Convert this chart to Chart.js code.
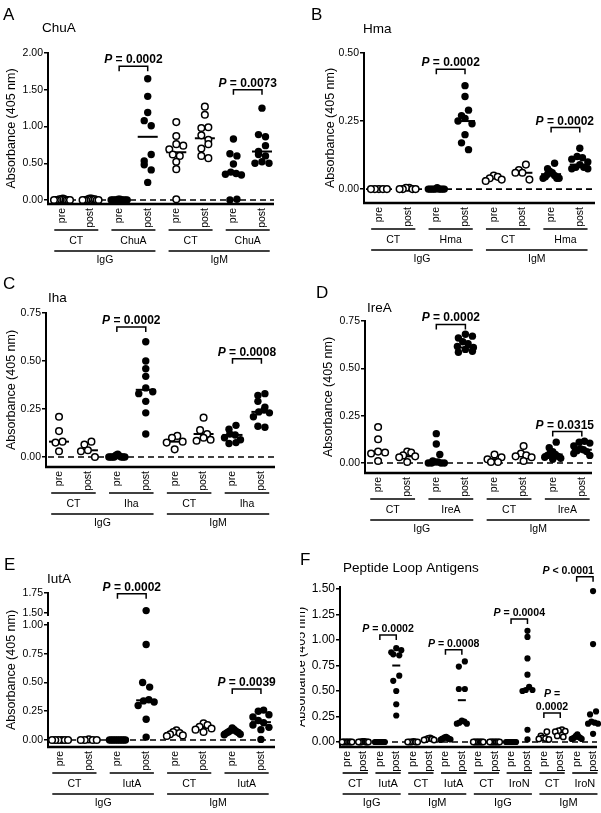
<!DOCTYPE html>
<html>
<head>
<meta charset="utf-8">
<script src="https://cdn.jsdelivr.net/npm/chart.js@4/dist/chart.umd.min.js"></script>
<style>
  html, body { margin: 0; padding: 0; background: #fff; }
  #wrap { position: relative; width: 601px; height: 813px; overflow: hidden; }
  canvas { position: absolute; }
</style>
</head>
<body>
<div id="wrap">
  <canvas id="pA"></canvas>
  <canvas id="pB"></canvas>
  <canvas id="pC"></canvas>
  <canvas id="pD"></canvas>
  <canvas id="pE"></canvas>
  <canvas id="pF"></canvas>
</div>
<script>
const FONT = "'Liberation Sans', Arial, Helvetica, sans-serif";

// shared x-axis labels
const phases = ["pre", "post"];
const isotypes = ["IgG", "IgM"];

// A - ChuA
const chuaTicks = [0, 0.5, 1.0, 1.5, 2.0];
const chuaGroups = ["CT", "ChuA", "CT", "ChuA"];
const chuaValues = [
    [0.02, 0.01, 0.01, 0.01, 0.0, 0.0, 0.0, 0.0, 0.0, 0.0],
    [0.02, 0.02, 0.01, 0.01, 0.01, 0.0, 0.0, 0.0, 0.0, 0.0],
    [0.01, 0.01, 0.0, 0.0, 0.0, 0.0, 0.0, 0.0, 0.0, 0.0],
    [1.65, 1.41, 1.19, 1.08, 1.01, 0.62, 0.53, 0.48, 0.41, 0.24],
    [1.06, 0.87, 0.76, 0.74, 0.69, 0.62, 0.60, 0.52, 0.42, 0.01],
    [1.27, 1.16, 0.99, 0.98, 0.88, 0.82, 0.76, 0.70, 0.60, 0.57],
    [0.83, 0.63, 0.60, 0.49, 0.38, 0.36, 0.35, 0.34, 0.01, 0.0],
    [1.25, 0.89, 0.86, 0.74, 0.66, 0.62, 0.60, 0.52, 0.50, 0.50],
];
const chuaCenters = [0.0, 0.0, 0.0, 0.86, 0.65, 0.84, 0.37, 0.66];
const chuaPairs = [[2, 3], [6, 7]];
const chuaP = ["= 0.0002", "= 0.0073"];
const chuaBracketY = [1.82, 1.50];

// B - Hma
const hmaTicks = [0, 0.25, 0.5];
const hmaGroups = ["CT", "Hma", "CT", "Hma"];
const hmaValues = [
    [0.0, 0.0, 0.0, 0.0, 0.0],
    [0.005, 0.005, 0.0, 0.0, 0.0, 0.0],
    [0.005, 0.0, 0.0, 0.0, 0.0, 0.0, 0.0, 0.0, 0.0, 0.0],
    [0.38, 0.34, 0.29, 0.27, 0.26, 0.25, 0.24, 0.20, 0.17, 0.145],
    [0.05, 0.045, 0.04, 0.035, 0.03],
    [0.09, 0.07, 0.06, 0.06, 0.035],
    [0.095, 0.075, 0.065, 0.06, 0.055, 0.05, 0.045, 0.04, 0.04, 0.04],
    [0.15, 0.12, 0.115, 0.11, 0.10, 0.09, 0.08, 0.08, 0.075, 0.075],
];
const hmaCenters = [0.0, 0.005, 0.003, 0.25, 0.04, 0.06, 0.055, 0.09];
const hmaPairs = [[2, 3], [6, 7]];
const hmaP = ["= 0.0002", "= 0.0002"];
const hmaBracketY = [0.44, 0.226];

// C - Iha
const ihaTicks = [0, 0.25, 0.5, 0.75];
const ihaGroups = ["CT", "Iha", "CT", "Iha"];
const ihaValues = [
    [0.21, 0.135, 0.08, 0.075, 0.03],
    [0.08, 0.065, 0.035, 0.03, 0.0],
    [0.015, 0.01, 0.005, 0.0, 0.0, 0.0, 0.0, 0.0, 0.0, 0.0],
    [0.60, 0.50, 0.46, 0.42, 0.36, 0.34, 0.33, 0.29, 0.23, 0.12],
    [0.11, 0.10, 0.08, 0.075, 0.04],
    [0.205, 0.14, 0.12, 0.10, 0.09, 0.085],
    [0.165, 0.145, 0.12, 0.115, 0.10, 0.09, 0.075, 0.07],
    [0.33, 0.32, 0.29, 0.26, 0.245, 0.235, 0.23, 0.21, 0.16, 0.155],
];
const ihaCenters = [0.08, 0.035, 0.0, 0.35, 0.08, 0.12, 0.115, 0.235];
const ihaPairs = [[2, 3], [6, 7]];
const ihaP = ["= 0.0002", "= 0.0008"];
const ihaBracketY = [0.677, 0.512];

// D - IreA
const ireaTicks = [0, 0.25, 0.5, 0.75];
const ireaGroups = ["CT", "IreA", "CT", "IreA"];
const ireaValues = [
    [0.19, 0.125, 0.06, 0.055, 0.05, 0.01],
    [0.06, 0.055, 0.04, 0.035, 0.03, 0.005],
    [0.155, 0.10, 0.045, 0.01, 0.005, 0.005, 0.0, 0.0, 0.0, 0.0],
    [0.68, 0.67, 0.66, 0.64, 0.63, 0.615, 0.61, 0.60, 0.59, 0.585],
    [0.045, 0.03, 0.02, 0.005, 0.005],
    [0.09, 0.05, 0.04, 0.035, 0.03, 0.01],
    [0.11, 0.08, 0.06, 0.05, 0.045, 0.04, 0.035, 0.03, 0.025, 0.02],
    [0.115, 0.11, 0.105, 0.09, 0.075, 0.07, 0.065, 0.06, 0.05, 0.04],
];
const ireaCenters = [0.055, 0.035, 0.005, 0.61, 0.02, 0.04, 0.045, 0.07];
const ireaPairs = [[2, 3], [6, 7]];
const ireaP = ["= 0.0002", "= 0.0315"];
const ireaBracketY = [0.732, 0.166];

// E - IutA (broken axis)
const iutaTicks = [0, 0.25, 0.5, 0.75, 1.0];
const iutaTopTicks = [1.5, 1.75];
const iutaGroups = ["CT", "IutA", "CT", "IutA"];
const iutaValues = [
    [0.0, 0.0, 0.0, 0.0, 0.0, 0.0],
    [0.005, 0.0, 0.0, 0.0, 0.0],
    [0.0, 0.0, 0.0, 0.0, 0.0, 0.0, 0.0, 0.0, 0.0, 0.0],
    [1.53, 0.83, 0.50, 0.46, 0.35, 0.34, 0.33, 0.30, 0.18, 0.025],
    [0.085, 0.07, 0.06, 0.05, 0.04, 0.035],
    [0.145, 0.13, 0.115, 0.10, 0.09, 0.07],
    [0.105, 0.09, 0.08, 0.075, 0.07, 0.065, 0.06, 0.05, 0.045],
    [0.26, 0.25, 0.22, 0.20, 0.17, 0.15, 0.13, 0.11, 0.09, 0.005],
];
const iutaCenters = [0.0, 0.0, 0.0, 0.345, 0.06, 0.105, 0.07, 0.155];
const iutaPairs = [[2, 3], [6, 7]];
const iutaP = ["= 0.0002", "= 0.0039"];
const iutaBracketY = [1.74, 0.443];

// F - Peptide loop antigens
const loopTicks = [0, 0.25, 0.5, 0.75, 1.0, 1.25, 1.5];
const loopGroups = ["CT", "IutA", "CT", "IutA", "CT", "IroN", "CT", "IroN"];
const loopValues = [
    [0.0, 0.0, 0.0, 0.0, 0.0, 0.0, 0.0, 0.0],
    [0.005, 0.005, 0.0, 0.0, 0.0, 0.0, 0.0, 0.0],
    [0.0, 0.0, 0.0, 0.0, 0.0, 0.0, 0.0, 0.0, 0.0, 0.0],
    [0.92, 0.90, 0.88, 0.86, 0.85, 0.65, 0.60, 0.50, 0.37, 0.26],
    [0.005, 0.0, 0.0, 0.0, 0.0, 0.0],
    [0.04, 0.035, 0.03, 0.025, 0.02, 0.02],
    [0.05, 0.045, 0.04, 0.035, 0.03, 0.03, 0.025, 0.02],
    [0.79, 0.74, 0.52, 0.52, 0.21, 0.20, 0.19, 0.18, 0.18],
    [0.0, 0.0, 0.0, 0.0, 0.0, 0.0, 0.0, 0.0],
    [0.0, 0.0, 0.0, 0.0, 0.0, 0.0, 0.0, 0.0],
    [0.0, 0.0, 0.0, 0.0, 0.0, 0.0, 0.0, 0.0, 0.0, 0.0],
    [1.09, 1.03, 0.82, 0.66, 0.54, 0.51, 0.51, 0.50, 0.12, 0.025],
    [0.10, 0.06, 0.04, 0.035, 0.03, 0.025],
    [0.12, 0.11, 0.105, 0.10, 0.06, 0.05],
    [0.075, 0.06, 0.05, 0.045, 0.04, 0.035, 0.03, 0.03],
    [1.48, 0.96, 0.30, 0.27, 0.20, 0.19, 0.18, 0.18, 0.08],
];
const loopCenters = [0, 0, 0, 0.75, 0, 0.02, 0.03, 0.41, 0, 0, 0, 0.52, 0.04, 0.1, 0.04, 0.19];
const loopPairs = [[2, 3], [6, 7], [10, 11], [12, 13], [14, 15]];
const loopP = ["= 0.0002", "= 0.0008", "= 0.0004", "=\n0.0002", "< 0.0001"];
const loopBracketY = [1.05, 0.905, 1.206, 0.284, 1.62];

const panels = [
    { id: "pA", box: [0, 0, 300, 270], area: [48, 53, 274, 204], yMin: -0.054, yMax: 2.0, xMin: -0.49, xMax: 7.42,
      ticks: chuaTicks, groups: chuaGroups, values: chuaValues, centers: chuaCenters, pairs: chuaPairs, pLabels: chuaP, pY: chuaBracketY,
      letter: "A", letterPos: [3, 20], title: "ChuA", titlePos: [42, 32], yTitleX: 12 },
    { id: "pB", box: [300, 0, 301, 270], area: [364, 53, 595, 203], yMin: -0.051, yMax: 0.5, xMin: -0.52, xMax: 7.53,
      ticks: hmaTicks, groups: hmaGroups, values: hmaValues, centers: hmaCenters, pairs: hmaPairs, pLabels: hmaP, pY: hmaBracketY,
      letter: "B", letterPos: [311, 20], title: "Hma", titlePos: [363, 33], yTitleX: 331 },
    { id: "pC", box: [0, 270, 300, 270], area: [46, 313, 275, 467], yMin: -0.052, yMax: 0.75, xMin: -0.45, xMax: 7.47,
      ticks: ihaTicks, groups: ihaGroups, values: ihaValues, centers: ihaCenters, pairs: ihaPairs, pLabels: ihaP, pY: ihaBracketY,
      letter: "C", letterPos: [3, 289], title: "Iha", titlePos: [48, 302], yTitleX: 12 },
    { id: "pD", box: [300, 270, 301, 270], area: [365, 321, 592, 473], yMin: -0.053, yMax: 0.75, xMin: -0.45, xMax: 7.35,
      ticks: ireaTicks, groups: ireaGroups, values: ireaValues, centers: ireaCenters, pairs: ireaPairs, pLabels: ireaP, pY: ireaBracketY,
      letter: "D", letterPos: [316, 298], title: "IreA", titlePos: [367, 312], yTitleX: 329 },
    { id: "pE", box: [0, 540, 300, 273], area: [48, 593, 275, 747], yMin: -0.061, yMax: 1.052, xMin: -0.42, xMax: 7.49,
      ticks: iutaTicks, groups: iutaGroups, values: iutaValues, centers: iutaCenters, pairs: iutaPairs, pLabels: iutaP, pY: iutaBracketY,
      split: { ticks: iutaTopTicks, min: 1.425, max: 1.75, lowWeight: 128, topWeight: 26 },
      letter: "E", letterPos: [4, 570], title: "IutA", titlePos: [47, 583], yTitleX: 12 },
    { id: "pF", box: [300, 540, 301, 273], area: [340, 587, 597, 747], yMin: -0.049, yMax: 1.52, xMin: -0.43, xMax: 15.24,
      ticks: loopTicks, groups: loopGroups, values: loopValues, centers: loopCenters, pairs: loopPairs, pLabels: loopP, pY: loopBracketY,
      letter: "F", letterPos: [300, 565], title: "Peptide Loop Antigens", titlePos: [343, 572], yTitleX: 302, small: true },
];

function yAxis(ticks, min, max, tickSize, extra) {
    return Object.assign({
        type: "linear",
        position: "left",
        min: min,
        max: max,
        afterFit: (s) => { s.width = 30; },
        afterBuildTicks: (s) => { s.ticks = ticks.map((v) => ({ value: v })); },
        ticks: {
            autoSkip: false,
            padding: 1,
            color: "#000",
            font: { family: FONT, size: tickSize },
            callback: (v) => Number(v).toFixed(2),
        },
        grid: { display: true, drawOnChartArea: false, drawTicks: true, tickLength: 4, color: "#000", lineWidth: 1.5 },
        border: { display: true, color: "#000", width: 2 },
    }, extra || {});
}

function drawPLabel(ctx, text, cx, y, size, maxRight) {
    const lines = text.split("\n");
    let base = y - 3 - (lines.length - 1) * (size + 2);
    lines.forEach((line, i) => {
        ctx.textBaseline = "alphabetic";
        ctx.textAlign = "left";
        if (i === 0) {
            ctx.font = `italic bold ${size}px ${FONT}`;
            const wP = ctx.measureText("P").width;
            ctx.font = `bold ${size}px ${FONT}`;
            const rest = " " + line;
            const wR = ctx.measureText(rest).width;
            let x0 = cx - (wP + wR) / 2;
            if (x0 + wP + wR > maxRight) x0 = maxRight - wP - wR;
            ctx.font = `italic bold ${size}px ${FONT}`;
            ctx.fillText("P", x0, base);
            ctx.font = `bold ${size}px ${FONT}`;
            ctx.fillText(rest, x0 + wP, base);
        } else {
            ctx.font = `bold ${size}px ${FONT}`;
            ctx.textAlign = "center";
            ctx.fillText(line, cx, base);
        }
        base += size + 2;
    });
}

function panelPlugin(p) {
    const ox = p.box[0], oy = p.box[1];
    return {
        id: "panel" + p.id,
        beforeDatasetsDraw(chart) {
            const { ctx, chartArea } = chart;
            const y0 = chart.scales.y.getPixelForValue(0);
            ctx.save();
            ctx.strokeStyle = "#000";
            ctx.lineWidth = 1.6;
            ctx.setLineDash([6, 4]);
            ctx.beginPath();
            ctx.moveTo(chartArea.left + 2, y0);
            ctx.lineTo(chartArea.right, y0);
            ctx.stroke();
            ctx.restore();
        },
        afterDraw(chart) {
            const { ctx, chartArea } = chart;
            const xs = chart.scales.x;
            const bottom = chartArea.bottom;
            ctx.save();
            ctx.fillStyle = "#000";
            ctx.strokeStyle = "#000";

            // x axis line
            ctx.lineWidth = 2.5;
            ctx.beginPath();
            ctx.moveTo(chartArea.left - 1, bottom);
            ctx.lineTo(chartArea.right, bottom);
            ctx.stroke();

            // axis break on panel E
            if (p.split) {
                const yHi = chart.scales.yTop.getPixelForValue(p.split.ticks[0]);
                const yLo = chart.scales.y.getPixelForValue(p.ticks[p.ticks.length - 1]);
                ctx.fillStyle = "#fff";
                ctx.fillRect(chartArea.left - 2, yHi + 3, 4, yLo - yHi - 6);
                ctx.fillStyle = "#000";
            }

            // x labels: pre / post, antigen, isotype
            const step = xs.getPixelForValue(1) - xs.getPixelForValue(0);
            const ext = step * 0.27;
            const phaseSize = p.small ? 11 : 10.5;
            const labelSize = p.small ? 11 : 10.5;
            const n = p.values.length;
            ctx.font = `${phaseSize}px ${FONT}`;
            for (let g = 0; g < n; g++) {
                const x = xs.getPixelForValue(g);
                ctx.save();
                ctx.translate(x, bottom + 4);
                ctx.rotate(-Math.PI / 2);
                ctx.textAlign = "right";
                ctx.textBaseline = "middle";
                ctx.fillText(phases[g % 2], 0, 0);
                ctx.restore();
            }
            ctx.lineWidth = 1.6;
            ctx.font = `${labelSize}px ${FONT}`;
            ctx.textAlign = "center";
            ctx.textBaseline = "middle";
            p.groups.forEach((lab, k) => {
                const x1 = xs.getPixelForValue(2 * k) - ext;
                const x2 = xs.getPixelForValue(2 * k + 1) + ext;
                ctx.beginPath();
                ctx.moveTo(x1, bottom + 26);
                ctx.lineTo(x2, bottom + 26);
                ctx.stroke();
                ctx.fillText(lab, (x1 + x2) / 2, bottom + 37);
            });
            for (let j = 0; j < n / 4; j++) {
                const x1 = xs.getPixelForValue(4 * j) - ext;
                const x2 = xs.getPixelForValue(4 * j + 3) + ext;
                ctx.beginPath();
                ctx.moveTo(x1, bottom + 47);
                ctx.lineTo(x2, bottom + 47);
                ctx.stroke();
                ctx.fillText(isotypes[j % 2], (x1 + x2) / 2, bottom + 56);
            }

            // significance brackets
            ctx.lineWidth = 1.5;
            p.pairs.forEach((pr, i) => {
                const v = p.pY[i];
                const sc = p.split && v > p.yMax ? chart.scales.yTop : chart.scales.y;
                const y = sc.getPixelForValue(v);
                const x1 = xs.getPixelForValue(pr[0]);
                const x2 = xs.getPixelForValue(pr[1]);
                ctx.beginPath();
                ctx.moveTo(x1, y + 5);
                ctx.lineTo(x1, y);
                ctx.lineTo(x2, y);
                ctx.lineTo(x2, y + 5);
                ctx.stroke();
                drawPLabel(ctx, p.pLabels[i], (x1 + x2) / 2, y, p.small ? 10.6 : 12, chart.width - 7);
            });

            // panel letter, title, y title
            ctx.textAlign = "left";
            ctx.textBaseline = "alphabetic";
            ctx.font = `17px ${FONT}`;
            ctx.fillText(p.letter, p.letterPos[0] - ox, p.letterPos[1] - oy);
            ctx.font = `13.5px ${FONT}`;
            ctx.fillText(p.title, p.titlePos[0] - ox, p.titlePos[1] - oy);
            ctx.save();
            ctx.translate(p.yTitleX - ox, (chartArea.top + chartArea.bottom) / 2);
            ctx.rotate(-Math.PI / 2);
            ctx.textAlign = "center";
            ctx.textBaseline = "middle";
            ctx.font = `12.5px ${FONT}`;
            ctx.fillText("Absorbance (405 nm)", 0, 0);
            ctx.restore();
            ctx.restore();
        },
    };
}

// spread points of a group sideways so they do not sit on top of each other:
// points close in height form a row; the highest sits in the middle, the rest alternate outwards
function swarm(chart, p) {
    const xs = chart.scales.x;
    const pxPerX = xs.width / (xs.max - xs.min);
    const diam = p.small ? 6 : 7;
    const spread = p.small ? 10 : 16;
    chart.data.datasets.forEach((ds) => {
        if (ds.group === undefined) return;
        const ys = chart.scales[ds.yAxisID];
        const pts = ds.data.map((d) => ({ d: d, py: ys.getPixelForValue(d.y) })).sort((a, b) => a.py - b.py);
        let i = 0;
        let flip = 1;
        while (i < pts.length) {
            let j = i;
            while (j + 1 < pts.length && pts[j + 1].py - pts[i].py < diam) j++;
            const cnt = j - i + 1;
            const s = cnt > 1 ? Math.min(diam, spread / (cnt - 1)) : 0;
            const slots = [];
            for (let k = 0; k < cnt; k++) slots.push((k - (cnt - 1) / 2) * s);
            slots.sort((a, b) => Math.abs(a) - Math.abs(b) || flip * (b - a));
            for (let k = 0; k < cnt; k++) {
                pts[i + k].d.x = ds.group + slots[k] / pxPerX;
            }
            flip = -flip;
            i = j + 1;
        }
    });
    chart.update("none");
}

function buildPanel(p) {
    const cv = document.getElementById(p.id);
    cv.width = p.box[2];
    cv.height = p.box[3];
    cv.style.left = p.box[0] + "px";
    cv.style.top = p.box[1] + "px";

    const r = p.small ? 3.1 : 3.7;
    const datasets = [];
    p.values.forEach((vals, g) => {
        const open = p.groups[Math.floor(g / 2)] === "CT";
        const style = {
            type: "scatter",
            pointRadius: open ? r - 0.4 : r,
            pointHoverRadius: open ? r - 0.4 : r,
            pointBackgroundColor: open ? "#fff" : "#000",
            pointBorderColor: "#000",
            pointBorderWidth: open ? 1.5 : 0,
            clip: false,
            group: g,
        };
        const low = p.split ? vals.filter((v) => v <= p.yMax) : vals;
        datasets.push(Object.assign({ data: low.map((v) => ({ x: g, y: v })), yAxisID: "y" }, style));
        if (p.split) {
            const high = vals.filter((v) => v > p.yMax);
            if (high.length) {
                datasets.push(Object.assign({ data: high.map((v) => ({ x: g, y: v })), yAxisID: "yTop" }, style));
            }
        }
    });
    datasets.push({
        type: "scatter",
        data: p.centers.map((c, g) => ({ x: g, y: c })),
        yAxisID: "y",
        pointStyle: "line",
        pointRadius: p.small ? 4 : 10,
        pointHoverRadius: p.small ? 4 : 10,
        pointBorderWidth: 2,
        pointBorderColor: "#000",
        clip: false,
    });

    const tickSize = p.small ? 12 : 10.5;
    const scales = {};
    if (p.split) {
        scales.yTop = yAxis(p.split.ticks, p.split.min, p.split.max, tickSize, { stack: "e", stackWeight: p.split.topWeight, weight: 1 });
        scales.y = yAxis(p.ticks, p.yMin, p.yMax, tickSize, { stack: "e", stackWeight: p.split.lowWeight, weight: 0 });
    } else {
        scales.y = yAxis(p.ticks, p.yMin, p.yMax, tickSize);
    }
    scales.x = { type: "linear", display: false, min: p.xMin, max: p.xMax };

    const L = p.area[0] - p.box[0], T = p.area[1] - p.box[1];
    const R = p.area[2] - p.box[0], B = p.area[3] - p.box[1];

    const chart = new Chart(cv, {
        type: "scatter",
        data: { datasets: datasets },
        options: {
            responsive: false,
            animation: false,
            events: [],
            layout: { autoPadding: false, padding: { left: L - 30, top: T, right: p.box[2] - R, bottom: p.box[3] - B } },
            plugins: { legend: { display: false }, tooltip: { enabled: false } },
            scales: scales,
        },
        plugins: [panelPlugin(p)],
    });
    swarm(chart, p);
}

panels.forEach(buildPanel);
</script>
</body>
</html>
